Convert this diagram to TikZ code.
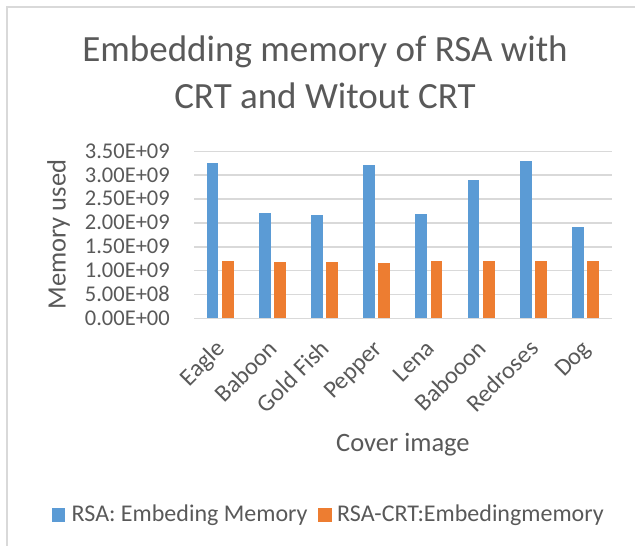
\documentclass[tikz,border=0pt]{standalone}
\usepackage{fontspec}
\setmainfont{Carlito}
\definecolor{txtgray}{HTML}{595959}
\definecolor{gridgray}{HTML}{D9D9D9}
\definecolor{framegray}{HTML}{D9D9D9}
\definecolor{barblue}{HTML}{5B9BD5}
\definecolor{barorange}{HTML}{ED7D31}
\tikzset{
  titletext/.style={font=\fontsize{37}{44}\selectfont, text=txtgray, inner sep=0pt, anchor=base},
  axistitle/.style={font=\fontsize{26.5}{31}\selectfont, text=txtgray, inner sep=0pt, anchor=base},
  ticklab/.style={font=\fontsize{22.5}{27}\selectfont, text=txtgray, inner sep=0pt},
  catlab/.style={font=\fontsize{24.3}{29}\selectfont, text=txtgray, inner sep=0pt, rotate=45, anchor=base east},
  legtext/.style={font=\fontsize{24}{28}\selectfont, text=txtgray, inner sep=0pt, anchor=base west},
  gridline/.style={draw=gridgray, line width=1.6pt},
  bluebar/.style={fill=barblue, draw=none},
  orangebar/.style={fill=barorange, draw=none},
}
\begin{document}
\begin{tikzpicture}[x=1pt,y=-1pt]
\useasboundingbox (0,0) rectangle (635,546);
% frame
\begin{scope}
\clip (0,0) rectangle (635,546);
\draw[framegray, line width=1.3pt] (7,7) rectangle (660,570);
\end{scope}
% title
\node[titletext] (title1) at (325,61.7) {Embedding memory of RSA with};
\node[titletext] (title2) at (325,108.3) {CRT and Witout CRT};
% gridlines and y labels
\foreach \k/\val in {0/0.00E+00,1/5.00E+08,2/1.00E+09,3/1.50E+09,4/2.00E+09,5/2.50E+09,6/3.00E+09,7/3.50E+09}{
  \draw[gridline] (194,{318.3-\k*23.857}) -- (611.7,{318.3-\k*23.857});
  \node[ticklab, anchor=base east] (yl\k) at (170,{318.3-\k*23.857+6.9}) {\val};
}
% bars and x labels
\foreach \i/\lab/\b/\o in {0/Eagle/3.25/1.195, 1/Baboon/2.213/1.174, 2/Gold Fish/2.17/1.174, 3/Pepper/3.22/1.165, 4/Lena/2.19/1.207, 5/Babooon/2.90/1.195, 6/Redroses/3.30/1.195, 7/Dog/1.907/1.207}{
  \pgfmathsetmacro\cx{194+52.21*(\i+0.5)}
  \fill[bluebar] ({\cx-13.5},318.3) rectangle ({\cx-1.8},{318.3-\b*47.71});
  \fill[orangebar] ({\cx+1.7},318.3) rectangle ({\cx+13.4},{318.3-\o*47.71});
  \node[catlab] (xl\i) at ({\cx+6.5},350) {\lab};
}
% axis titles
\node[axistitle, rotate=90] (ytitle) at (65.5,234.5) {Memory used};
\node[axistitle] (xtitle) at (402.9,451.7) {Cover image};
% legend
\fill[barblue] (51.7,508.3) rectangle (65,521.7);
\node[legtext] (leg1) at (71.5,521.7) {RSA: Embeding Memory};
\fill[barorange] (318.3,508.3) rectangle (331.7,521.7);
\node[legtext] (leg2) at (337,521.7) {RSA-CRT:Embedingmemory};
\end{tikzpicture}
\end{document}
